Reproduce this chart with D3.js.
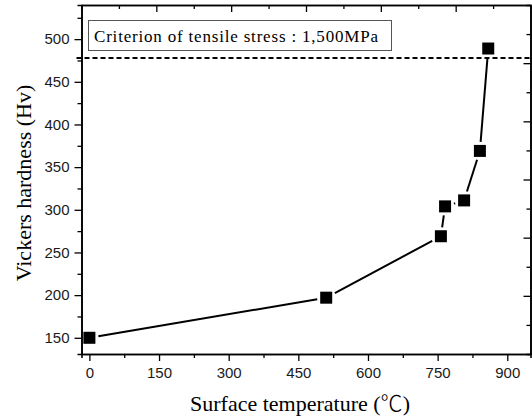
<!DOCTYPE html>
<html>
<head>
<meta charset="utf-8">
<script src="https://cdn.jsdelivr.net/npm/d3@7"></script>
<style>
  body { margin: 0; background: #fff; }
  .tick text { font-family: "Liberation Sans", Arial, sans-serif; font-size: 15px; fill: #1a1a1a; }
  .label { font-family: "Liberation Serif", "Times New Roman", serif; font-size: 22px; fill: #000; }
  .legend-text { font-family: "Liberation Serif", "Times New Roman", serif; font-size: 17px; fill: #000; }
</style>
</head>
<body>
<svg width="532" height="419"></svg>
<script>
// **** data ****
var temperature = [0, 510, 757, 766, 807, 841, 859];
var hardness = [150, 197, 269, 304, 311, 369, 489];
var criterion = 478;
var xTicks = [0, 150, 300, 450, 600, 750, 900];
var yTicks = [150, 200, 250, 300, 350, 400, 450, 500];
var criterionText = 'Criterion of tensile stress : 1,500MPa';

// **** scales ****
var plotLeft = 81.5, plotRight = 530.5, plotTop = 5, plotBottom = 354;

var xScale = d3.scaleLinear().domain([-17, 950]).range([plotLeft, plotRight]);
var yScale = d3.scaleLinear().domain([131, 540]).range([plotBottom, plotTop]);
// unlinked top / right axes (0..6)
var topScale = d3.scaleLinear().domain([0, 6]).range([plotLeft, plotRight]);
var rightScale = d3.scaleLinear().domain([0, 6]).range([plotBottom, plotTop]);

var svg = d3.select('svg');

// bottom axis: major + minor ticks
var xMinor = d3.range(75, 950, 150);
svg.append('g').attr('class', 'x minor')
    .attr('transform', 'translate(0,' + plotBottom + ')')
    .call(d3.axisBottom(xScale).tickValues(xMinor).tickSize(4).tickFormat(''));
svg.append('g').attr('class', 'x axis')
    .attr('transform', 'translate(0,' + plotBottom + ')')
    .call(d3.axisBottom(xScale).tickValues(xTicks).tickSize(7).tickPadding(6).tickSizeOuter(0));

// left axis
var yMinor = d3.range(175, 540, 50);
svg.append('g').attr('class', 'y minor')
    .attr('transform', 'translate(' + plotLeft + ',0)')
    .call(d3.axisLeft(yScale).tickValues(yMinor).tickSize(4).tickFormat(''));
svg.append('g').attr('class', 'y axis')
    .attr('transform', 'translate(' + plotLeft + ',0)')
    .call(d3.axisLeft(yScale).tickValues(yTicks).tickSize(7).tickPadding(5).tickSizeOuter(0));

// top axis, ticks inward
svg.append('g').attr('class', 'top minor')
    .attr('transform', 'translate(0,' + plotTop + ')')
    .call(d3.axisBottom(topScale).tickValues([0.5, 1.5, 2.5, 3.5, 4.5, 5.5]).tickSize(4).tickFormat(''));
svg.append('g').attr('class', 'top axis')
    .attr('transform', 'translate(0,' + plotTop + ')')
    .call(d3.axisBottom(topScale).tickValues([1, 2, 3, 4, 5]).tickSize(7).tickFormat('').tickSizeOuter(0));

// right axis, ticks inward
svg.append('g').attr('class', 'right minor')
    .attr('transform', 'translate(' + plotRight + ',0)')
    .call(d3.axisLeft(rightScale).tickValues([0.5, 1.5, 2.5, 3.5, 4.5, 5.5]).tickSize(4).tickFormat(''));
svg.append('g').attr('class', 'right axis')
    .attr('transform', 'translate(' + plotRight + ',0)')
    .call(d3.axisLeft(rightScale).tickValues([1, 2, 3, 4, 5]).tickSize(7).tickFormat('').tickSizeOuter(0));

svg.selectAll('.domain').attr('stroke', '#000').attr('stroke-width', 1.6);
svg.selectAll('.tick line').attr('stroke', '#000').attr('stroke-width', 1.3);

// criterion dashed line
svg.append('line')
    .attr('x1', plotLeft - 5).attr('x2', plotRight + 2)
    .attr('y1', yScale(criterion)).attr('y2', yScale(criterion))
    .attr('stroke', '#000').attr('stroke-width', 2)
    .attr('stroke-dasharray', '5,3');

// legend box
svg.append('rect')
    .attr('x', 88.5).attr('y', 20.5).attr('width', 303).attr('height', 30)
    .attr('fill', '#fff').attr('stroke', '#555').attr('stroke-width', 1);
svg.append('text')
    .attr('class', 'legend-text')
    .attr('x', 94).attr('y', 42)
    .attr('textLength', 284)
    .text(criterionText);

// line segments with gaps around symbols
var half = 6, gap = 3;
var pts = temperature.map(function (t, i) { return [xScale(t), yScale(hardness[i])]; });
for (var i = 0; i < pts.length - 1; i++) {
    var a = pts[i], b = pts[i + 1];
    var dx = b[0] - a[0], dy = b[1] - a[1];
    var len = Math.sqrt(dx * dx + dy * dy);
    var ux = dx / len, uy = dy / len;
    var cut = Math.min(half / Math.max(Math.abs(ux), 1e-6), half / Math.max(Math.abs(uy), 1e-6)) + gap;
    if (len <= 2 * cut) continue;
    svg.append('line')
        .attr('x1', a[0] + ux * cut).attr('y1', a[1] + uy * cut)
        .attr('x2', b[0] - ux * cut).attr('y2', b[1] - uy * cut)
        .attr('stroke', '#000').attr('stroke-width', 2);
}

// markers
svg.selectAll('rect.marker')
    .data(temperature).enter()
    .append('rect')
    .attr('class', 'marker')
    .attr('x', function (d) { return xScale(d) - half; })
    .attr('y', function (d, i) { return yScale(hardness[i]) - half; })
    .attr('width', half * 2).attr('height', half * 2)
    .attr('fill', '#000');

// axis titles
var xLabel = svg.append('text')
    .attr('class', 'label')
    .attr('text-anchor', 'middle')
    .attr('transform', 'translate(300,411)');
xLabel.append('tspan').text('Surface temperature (');
xLabel.append('tspan').style('font-family', '"Noto Sans CJK KR", sans-serif')
    .style('font-weight', 300).text('\u2103');
xLabel.append('tspan').text(')');

svg.append('text')
    .attr('class', 'label')
    .attr('text-anchor', 'middle')
    .attr('transform', 'translate(31,183) rotate(-90)')
    .text('Vickers hardness (Hv)');
</script>
</body>
</html>
